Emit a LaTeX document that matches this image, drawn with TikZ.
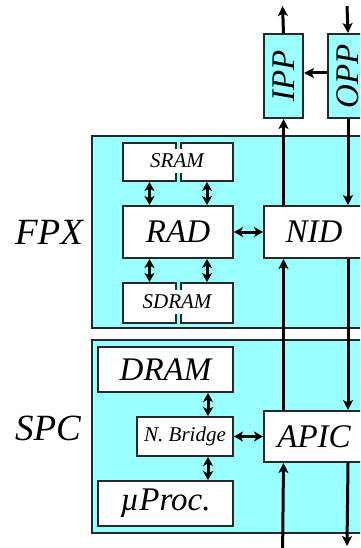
\documentclass[tikz,border=0pt]{standalone}
\usepackage{fontspec}
\setmainfont{Liberation Serif}
\usetikzlibrary{positioning,arrows.meta}
\definecolor{boardcyan}{RGB}{153,255,255}
\definecolor{edgegray}{RGB}{40,40,40}
\tikzset{
    board/.style={%
        draw=edgegray, fill=boardcyan, line width=2pt,
        anchor=north west, inner sep=0pt
        },
    unit/.style={%
        draw=edgegray, fill=white, line width=2pt,
        anchor=north west, inner sep=0pt,
        minimum width=#1
        },
    unit/.default=110pt,
    boardname/.style={font=\fontsize{37}{40}\selectfont\itshape},
    bigtext/.style={font=\fontsize{33}{36}\selectfont\itshape},
    smalltext/.style={font=\fontsize{21}{24}\selectfont\itshape},
    bus/.style={line width=3pt, -{Stealth[length=10pt,width=10pt,inset=2.5pt]}},
    link/.style={line width=3pt, {Stealth[length=9pt,width=10pt,inset=2.5pt]}-{Stealth[length=9pt,width=10pt,inset=2.5pt]}}
}

\begin{document}
\begin{tikzpicture}[x=1pt,y=-1pt]

\clip (0,0) rectangle (360,548);

% boards
\node[board, minimum width=330pt, minimum height=192pt] (FPXboard) at (91,135) {};
\node[board, minimum width=330pt, minimum height=193pt] (SPCboard) at (91,339) {};

\node[boardname] (FPX) at (49,232) {FPX};
\node[boardname] (SPC) at (48,428) {SPC};

% FPX units
\node[unit=53pt, minimum height=38pt] (SRAMl) at (122,142) {};
\node[unit=52pt, minimum height=38pt] (SRAMr) at (180,142) {};
\node[smalltext, fill=white, inner sep=0pt, minimum width=60pt, minimum height=24pt] (SRAM) at (177,161) {SRAM};

\node[unit, minimum height=52pt, bigtext] (RAD) at (122,205) {\makebox[110pt]{RAD}};

\node[unit=53pt, minimum height=40pt] (SDRAMl) at (122,282) {};
\node[unit=52pt, minimum height=40pt] (SDRAMr) at (180,282) {};
\node[smalltext, fill=white, inner sep=0pt, minimum width=70pt, minimum height=24pt] (SDRAM) at (177,302) {SDRAM};

\node[unit=100pt, minimum height=52pt, bigtext] (NID) at (263,205) {NID};

% port processors
\node[board, minimum width=39pt, minimum height=84pt] (IPP) at (263,33) {};
\node[bigtext, rotate=90] at (IPP.center) {IPP};
\node[board, minimum width=40pt, minimum height=84pt] (OPP) at (327,33) {};
\node[bigtext, rotate=90] at (OPP.center) {OPP};

% SPC units
\node[unit=135pt, minimum height=45pt, bigtext] (DRAM) at (97,346) {DRAM};
\node[unit=96pt, minimum height=39pt, smalltext] (NBridge) at (136,416) {N. Bridge};
\node[unit=135pt, minimum height=45pt, bigtext] (uProc) at (97,480) {µProc.};
\node[unit=100pt, minimum height=51pt, bigtext] (APIC) at (263,410) {APIC};

\coordinate (LinkOut) at (282.5,6);
\coordinate (LinkIn) at (347,6);
\coordinate (HostIn) at (282.5,560);
\coordinate (HostOut) at (347,546);

% data paths
\draw[bus] (IPP.north) -- (LinkOut);
\draw[bus] (LinkIn) -- (OPP.north);
\draw[bus] ([yshift=3pt]OPP.west) -- ([yshift=3pt]IPP.east);

\draw[bus] (IPP.south |- NID.north) -- (IPP.south);
\draw[bus] (OPP.south) -- (OPP.south |- NID.north);
\draw[bus] (IPP.south |- APIC.north) -- (IPP.south |- NID.south);
\draw[bus] (OPP.south |- NID.south) -- (OPP.south |- APIC.north);
\draw[bus] (HostIn) -- (IPP.south |- APIC.south);
\draw[bus] (OPP.south |- APIC.south) -- (HostOut);

% memory links
\draw[link] (SRAMl.south) -- (SRAMl.south |- RAD.north);
\draw[link] (SRAMr.south) -- (SRAMr.south |- RAD.north);
\draw[link] (SDRAMl.north |- RAD.south) -- (SDRAMl.north);
\draw[link] (SDRAMr.north |- RAD.south) -- (SDRAMr.north);
\draw[link] (RAD.east) -- (NID.west);

\draw[link] ([xshift=-26pt]NBridge.north east |- DRAM.south) -- ([xshift=-26pt]NBridge.north east);
\draw[link] ([xshift=-26pt]NBridge.south east) -- ([xshift=-26pt]NBridge.south east |- uProc.north);
\draw[link] (NBridge.east) -- (APIC.west);

\end{tikzpicture}
\end{document}
